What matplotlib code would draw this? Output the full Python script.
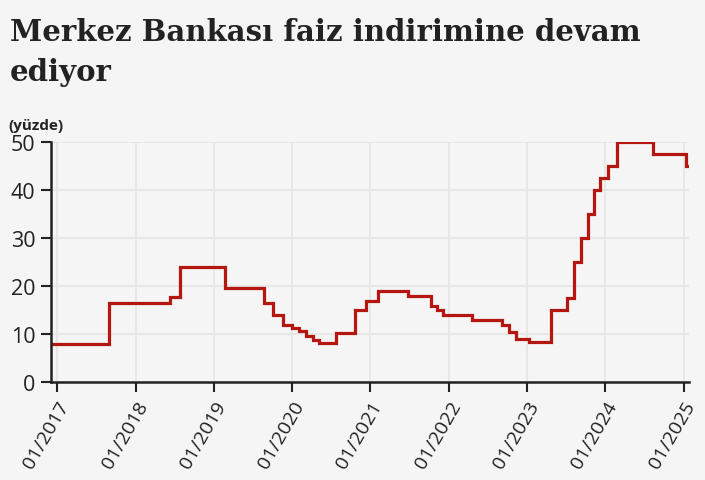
import matplotlib
matplotlib.use("Agg")
import matplotlib.pyplot as plt
import matplotlib.dates as mdates
import pandas as pd

# Policy rate change dates (step starts) and rates (%)
dates = ["2016-12-01", "2017-08-30", "2018-06-11", "2018-07-27", "2019-02-23",
         "2019-08-23", "2019-10-05", "2019-11-18", "2020-01-01", "2020-02-04",
         "2020-03-06", "2020-04-09", "2020-05-07", "2020-07-24", "2020-10-22",
         "2020-12-10", "2021-02-07", "2021-06-24", "2021-10-09", "2021-11-06",
         "2021-12-04", "2022-04-21", "2022-09-08", "2022-10-08", "2022-11-10",
         "2023-01-11", "2023-04-25", "2023-07-09", "2023-08-09", "2023-09-09",
         "2023-10-12", "2023-11-12", "2023-12-10", "2024-01-14", "2024-02-25",
         "2024-08-11", "2025-01-12", "2025-01-21"]
rates = [8.0, 16.5, 17.75, 24.0, 19.75,
         16.5, 14.0, 12.0, 11.25, 10.75,
         9.75, 8.75, 8.25, 10.25, 15.0,
         17.0, 19.0, 18.0, 16.0, 15.0,
         14.0, 13.0, 12.0, 10.5, 9.0,
         8.5, 15.0, 17.5, 25.0, 30.0,
         35.0, 40.0, 42.5, 45.0, 50.0,
         47.5, 45.0, 45.0]
tick_years = [2017, 2018, 2019, 2020, 2021, 2022, 2023, 2024, 2025]
y_ticks = [0, 10, 20, 30, 40, 50]

title_lines = ["Merkez Bankası faiz indirimine devam", "ediyor"]
unit_label = "(yüzde)"

bg = "#f5f5f5"
plt.rcParams['font.family'] = ['Open Sans', 'DejaVu Sans']

fig = plt.figure(figsize=(7.05, 4.81), dpi=100, facecolor=bg)
ax = fig.add_axes([50.7/705, 1-383.3/481, (689.3-50.7)/705, (383.3-143.3)/481])
ax.set_facecolor(bg)

x = pd.to_datetime(dates)
ax.step(x, rates, where="post", color="#b3170f", lw=2.3, solid_joinstyle="miter", zorder=3)

ax.set_xlim(x[0], x[-1] + pd.Timedelta(days=7))
ax.set_ylim(0, 50)
ax.set_yticks(y_ticks)
ax.set_xticks(pd.to_datetime([f"{y}-01-01" for y in tick_years]))
ax.xaxis.set_major_formatter(mdates.DateFormatter("%m/%Y"))

ax.grid(True, color="#e6e6e6", lw=1.3, zorder=0)
ax.set_axisbelow(True)
for s in ["top", "right"]:
    ax.spines[s].set_visible(False)
for s in ["left", "bottom"]:
    ax.spines[s].set_color("#222222")
    ax.spines[s].set_linewidth(1.8)
    ax.spines[s].set_zorder(4)

ax.tick_params(axis="both", colors="#222222", length=7, width=1.5, labelsize=15.5, pad=4)
for lab in ax.get_xticklabels():
    lab.set_rotation(60)
    lab.set_ha("right")
    lab.set_va("top")
    lab.set_rotation_mode("anchor")
    lab.set_fontsize(14)

for i, line in enumerate(title_lines):
    fig.text(10/705, 1-(41+40*i)/481, line, fontsize=21, fontweight="bold", family="DejaVu Serif",
             color="#222222", va="baseline", ha="left")
fig.text(8/705, 1-130/481, unit_label, fontsize=11, fontweight="bold", color="#222222",
         va="baseline", ha="left")

fig.savefig("out.png", dpi=100, facecolor=bg)
